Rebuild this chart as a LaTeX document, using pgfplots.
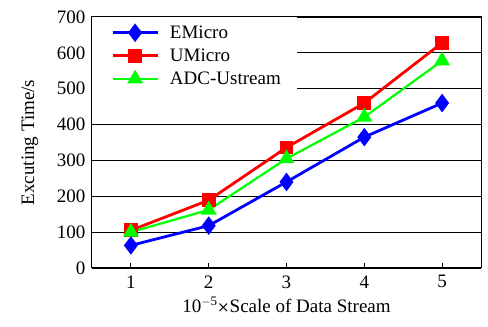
\documentclass[border=0pt]{standalone}
\usepackage{fontspec}
\setmainfont{Liberation Serif}
\usepackage{pgfplots}
\pgfplotsset{compat=1.18}
\usetikzlibrary{calc}
\definecolor{cB}{RGB}{0,0,255}
\definecolor{cR}{RGB}{255,0,0}
\definecolor{cG}{RGB}{0,255,0}
\begin{document}
\begin{tikzpicture}
\begin{axis}[
  name=ax,
  width=389pt, height=251pt, scale only axis,
  xmin=0.5, xmax=5.5, ymin=0, ymax=700,
  xtick={1,2,3,4,5}, ytick={0,100,...,700},
  tick align=inside, xtick pos=bottom, ytick pos=left,
  major tick length=5pt,
  ymajorgrids, grid style={black, line width=0.9pt},
  axis line style={line width=1pt},
  tick style={black, line width=0.8pt},
  tick label style={font=\fontsize{19}{22}\selectfont},
  xticklabel style={yshift=-4pt},
  yticklabel style={xshift=-3pt},
  /pgf/number format/assume math mode=true,
  label style={font=\fontsize{19}{22}\selectfont},
  xlabel={10\raisebox{0.75ex}{\fontsize{13}{14}\selectfont $-$5}{\fontspec{DejaVu Serif}\fontsize{15}{16}\selectfont ×}Scale of Data Stream},
  ylabel={Excuting Time/s},
  xlabel style={at={(axis description cs:0.5,0)}, anchor=center, yshift=-37pt},
  ylabel style={at={(axis description cs:0,0.5)}, anchor=center, yshift=62pt},
  legend style={at={(0,1)}, anchor=north west, draw=none, fill=white,
    font=\fontsize{19}{22}\selectfont, inner xsep=12pt, inner ysep=7pt,
    nodes={inner xsep=4pt, inner ysep=1.5pt},
    row sep=6pt},
  legend cell align=left,
  legend image code/.code={\path (0pt,0pt) (59pt,0pt); \draw[#1] (7pt,0pt) -- (52pt,0pt); \draw[#1,mark repeat=2,mark phase=2] plot coordinates {(7pt,0pt) (29.5pt,0pt) (52pt,0pt)};},
  every axis plot/.append style={line width=2.8pt},
]
\addplot[cB, mark=diamond*, mark size=7pt, mark options={solid}] coordinates {(1,63) (2,118) (3,240) (4,365) (5,460)};
\addlegendentry{EMicro}
\addplot[cR, mark=square*, mark size=5.5pt] coordinates {(1,105) (2,189) (3,336) (4,460) (5,628)};
\addlegendentry{UMicro}
\addplot[cG, mark=triangle*, mark size=7pt, line width=2.2pt] coordinates {(1,100) (2,162) (3,305) (4,421) (5,578)};
\addlegendentry{ADC-Ustream\hspace{26pt}}
\end{axis}
\path ($(ax.south west)+(-92pt,-59pt)$) rectangle ($(ax.north east)+(7pt,17pt)$);
\end{tikzpicture}
\end{document}
